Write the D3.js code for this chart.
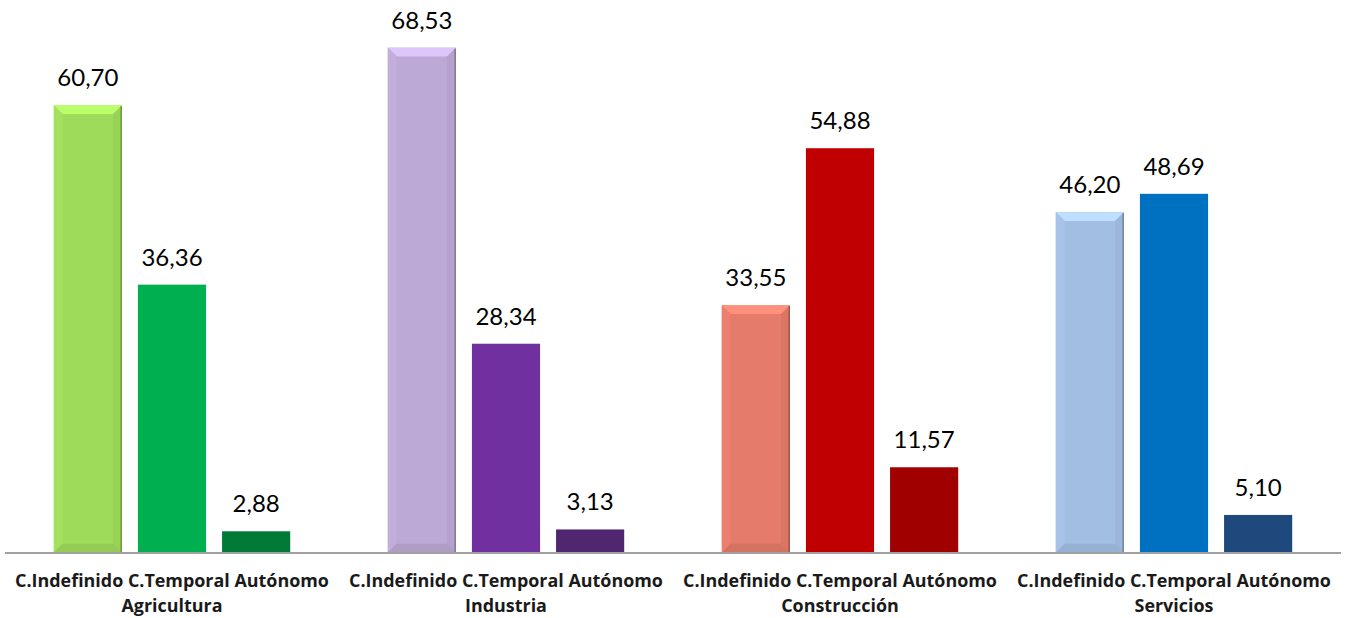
<!DOCTYPE html>
<html><head><meta charset="utf-8">
<script src="https://cdn.jsdelivr.net/npm/d3@7"></script>
<style>body{margin:0;background:#fff;}svg{display:block;}</style>
</head><body>
<svg id="chart" width="1346" height="618"></svg>
<script>
const groups = ["Agricultura", "Industria", "Construcción", "Servicios"];
const types = ["C.Indefinido", "C.Temporal", "Autónomo"];
const agricultura = [60.70, 36.36, 2.88];
const industria = [68.53, 28.34, 3.13];
const construccion = [33.55, 54.88, 11.57];
const servicios = [46.20, 48.69, 5.10];
const seriesByGroup = [agricultura, industria, construccion, servicios];
const colorsByGroup = [
  ["#9fdb5b", "#00b050", "#007a37"],
  ["#bca9d5", "#7030a0", "#512670"],
  ["#e57b6a", "#c00000", "#a00000"],
  ["#a2bee3", "#0070c0", "#1f497d"]
];

const svg = d3.select("#chart");
const x0 = d3.scaleBand().domain(groups).range([5, 1341]).paddingInner(0).paddingOuter(0);
const x1 = d3.scaleBand().domain(types).range([0, x0.bandwidth()]).paddingInner(0.19).paddingOuter(0.58);
const y = d3.scaleLinear().domain([0, 75]).range([552.5, 0]);

const fmt = v => d3.format(".2f")(v).replace(".", ",");

const data = [];
groups.forEach((g, gi) => types.forEach((t, ti) => data.push({g, gi, t, ti, v: seriesByGroup[gi][ti], c: colorsByGroup[gi][ti]})));

const bars = svg.append("g").selectAll("g").data(data).join("g");
bars.each(function(d) {
  const sel = d3.select(this);
  const xa = x0(d.g) + x1(d.t), xb = xa + x1.bandwidth();
  const ya = y(d.v), yb = y(0);
  sel.append("rect").attr("x", xa).attr("y", ya).attr("width", xb - xa).attr("height", yb - ya).attr("fill", d.c);
  if (d.ti === 0) {
    const b = 9;
    const base = d3.color(d.c);
    const light = base.brighter(0.45).formatHex();
    const lightish = base.brighter(0.08).formatHex();
    const dark = base.darker(0.12).formatHex();
    const bottom = base.darker(0.2).formatHex();
    const darker = base.darker(1.0).formatHex();
    const poly = (pts, fill) => sel.append("polygon").attr("points", pts.map(p => p.join(",")).join(" ")).attr("fill", fill);
    poly([[xa, ya], [xb, ya], [xb - b, ya + b], [xa + b, ya + b]], light);
    poly([[xa, ya], [xa + b, ya + b], [xa + b, yb - b], [xa, yb]], lightish);
    poly([[xb, ya], [xb - b, ya + b], [xb - b, yb - b], [xb, yb]], dark);
    poly([[xa, yb], [xa + b, yb - b], [xb - b, yb - b], [xb, yb]], bottom);
    sel.append("rect").attr("x", xa + b).attr("y", ya + b).attr("width", xb - xa - 2 * b).attr("height", Math.max(0, yb - ya - 2 * b)).attr("fill", d.c);
    sel.append("line").attr("x1", xb - 0.75).attr("x2", xb - 0.75).attr("y1", ya + 1).attr("y2", yb).attr("stroke", darker).attr("stroke-width", 1.5);
  }
});

svg.append("g").selectAll("text").data(data).join("text")
  .attr("x", d => x0(d.g) + x1(d.t) + x1.bandwidth() / 2)
  .attr("y", d => y(d.v) - 19)
  .attr("text-anchor", "middle")
  .attr("font-family", "Lato, 'Open Sans', sans-serif")
  .attr("font-size", 24)
  .attr("fill", "#000")
  .text(d => fmt(d.v));

svg.append("line").attr("x1", 5).attr("x2", 1341).attr("y1", y(0) + 0.5).attr("y2", y(0) + 0.5)
  .attr("stroke", "#a0a0a0").attr("stroke-width", 2);

const labelFont = "'Open Sans', sans-serif";
const lab = svg.append("g").selectAll("g").data(groups).join("g");
const line1 = lab.append("text")
  .attr("x", g => x0(g) + x0.bandwidth() / 2)
  .attr("y", 587)
  .attr("text-anchor", "middle")
  .attr("font-family", labelFont).attr("font-weight", "bold").attr("font-size", 16)
  .attr("fill", "#1a1a1a")
  .text(types.join(" "));
// fit label size so the first line spans ~314px like the reference
const w16 = line1.node().getComputedTextLength();
const fs = Math.min(19, 16 * 314 / w16);
line1.attr("font-size", fs);
lab.append("text")
  .attr("x", g => x0(g) + x0.bandwidth() / 2)
  .attr("y", 612)
  .attr("text-anchor", "middle")
  .attr("font-family", labelFont).attr("font-weight", "bold").attr("font-size", fs)
  .attr("fill", "#1a1a1a")
  .text(g => g);
</script>
</body></html>
